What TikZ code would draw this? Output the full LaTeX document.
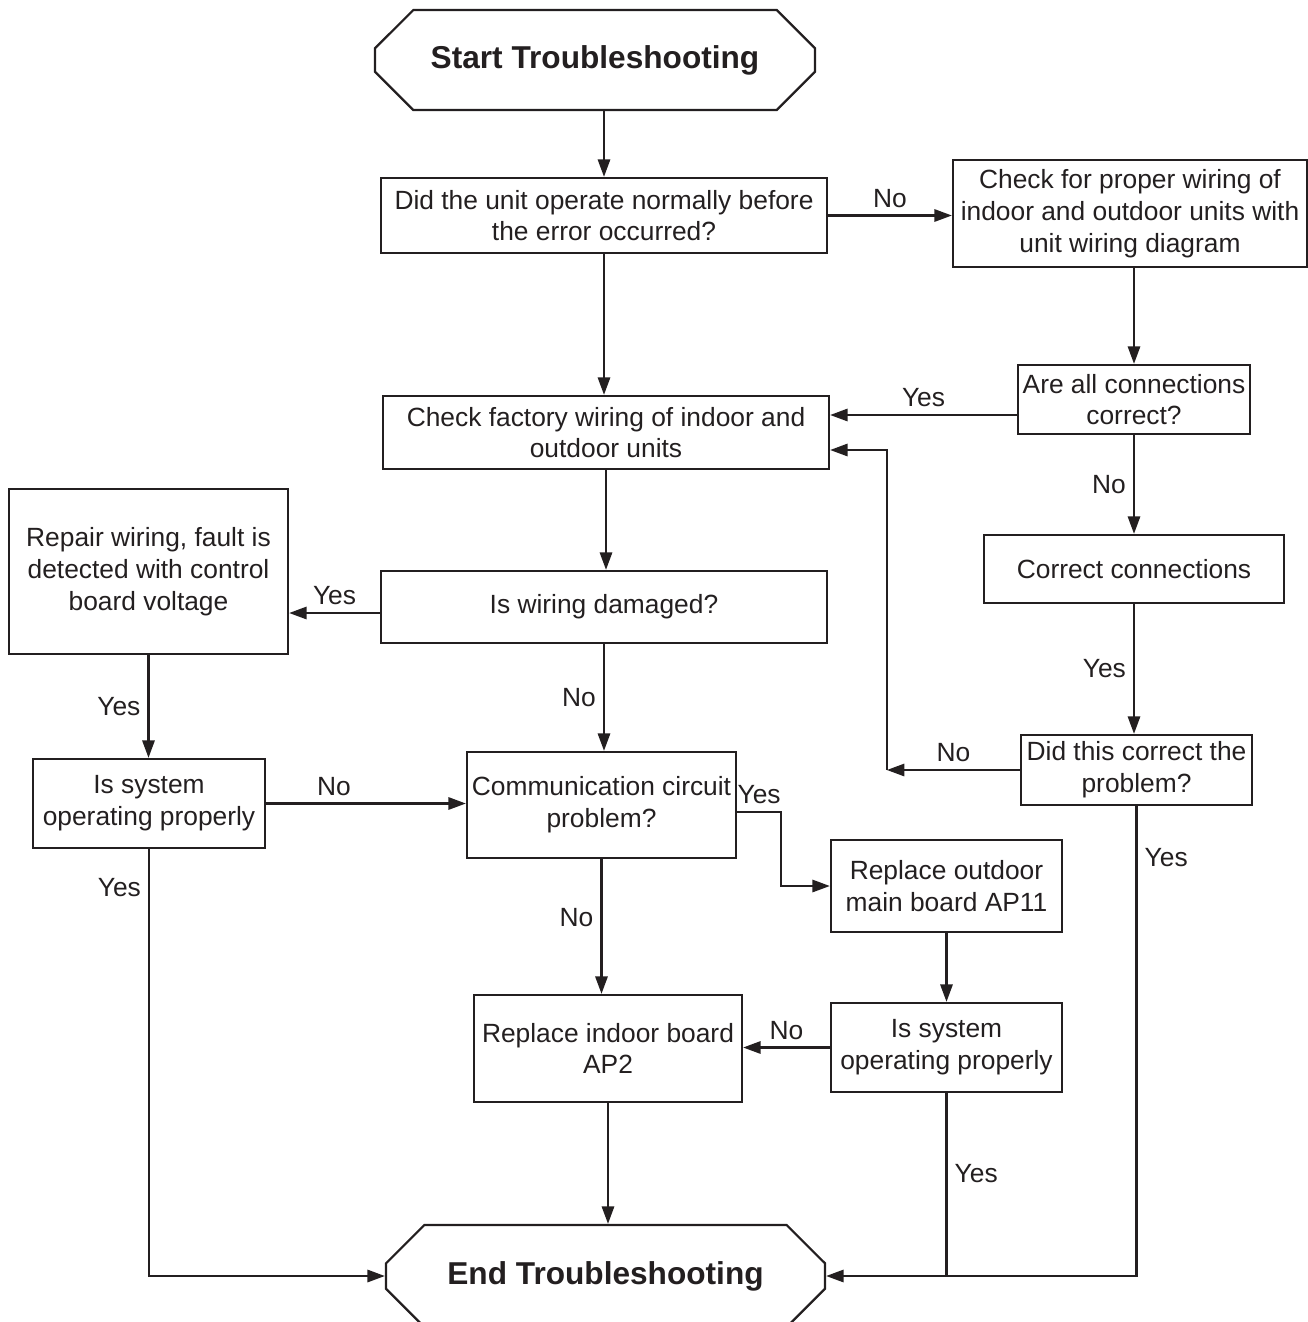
\documentclass[tikz,border=0pt]{standalone}
\usepackage{fontspec}
\setmainfont{Liberation Sans}
\usepackage{xcolor}
\usepackage{tikz}
\usetikzlibrary{shapes.misc, arrows.meta, positioning, calc}
\definecolor{inkblack}{RGB}{35, 31, 32}

\tikzset{
    stepbox/.style={draw=inkblack, line width=1.3pt, align=center, inner sep=0pt,
                    text=inkblack, font=\fontsize{15}{18.1}\selectfont},
    termbox/.style={chamfered rectangle, chamfered rectangle xsep=0.47cm,
                    chamfered rectangle ysep=0.47cm, draw=inkblack, line width=1.3pt,
                    inner sep=0pt, text=inkblack, font=\fontsize{18}{21}\selectfont\bfseries},
    flow/.style={draw=inkblack, line width=1.3pt},
    arr/.style={flow, -{Triangle[length=10pt, width=7pt]}},
    lbl/.style={text=inkblack, font=\fontsize{15}{18}\selectfont, inner sep=4pt},
}

\begin{document}
\begin{tikzpicture}[x=0.02cm, y=-0.02cm]
    \useasboundingbox (0,0) rectangle (1308,1322);

    % start and end
    \node[termbox, minimum width=8.8cm, minimum height=2cm] (start) at (595,60) {Start Troubleshooting};
    \node[termbox, minimum width=8.78cm, minimum height=2.04cm] (finish) at (605.5,1276) {End Troubleshooting};

    % steps
    \node[stepbox, minimum width=8.92cm, minimum height=1.5cm] (normal) at (604,215.5)
        {Did the unit operate normally before\\the error occurred?};
    \node[stepbox, minimum width=7.08cm, minimum height=2.14cm] (propwiring) at (1130,213.5)
        {Check for proper wiring of\\indoor and outdoor units with\\unit wiring diagram};
    \node[stepbox, minimum width=4.64cm, minimum height=1.38cm] (allok) at (1134,399.5)
        {Are all connections\\correct?};
    \node[stepbox, minimum width=8.92cm, minimum height=1.46cm] (factory) at (606,432.5)
        {Check factory wiring of indoor and\\outdoor units};
    \node[stepbox, minimum width=6cm, minimum height=1.36cm] (fixconn) at (1134,569)
        {Correct connections};
    \node[stepbox, minimum width=5.58cm, minimum height=3.3cm] (repair) at (148.5,571.5)
        {Repair wiring, fault is\\detected with control\\board voltage};
    \node[stepbox, minimum width=8.92cm, minimum height=1.44cm] (damaged) at (604,607)
        {Is wiring damaged?};
    \node[stepbox, minimum width=4.62cm, minimum height=1.4cm] (corrected) at (1136.5,770)
        {Did this correct the\\problem?};
    \node[stepbox, minimum width=4.64cm, minimum height=1.78cm] (sysokleft) at (149,803.5)
        {Is system\\operating properly};
    \node[stepbox, minimum width=5.38cm, minimum height=2.12cm] (commprob) at (601.5,805)
        {Communication circuit\\problem?};
    \node[stepbox, minimum width=4.62cm, minimum height=1.84cm] (outdoor) at (946.5,886)
        {Replace outdoor\\main board AP11};
    \node[stepbox, minimum width=5.36cm, minimum height=2.14cm] (indoor) at (608,1048.5)
        {Replace indoor board\\AP2};
    \node[stepbox, minimum width=4.62cm, minimum height=1.78cm] (sysokright) at (946.5,1047.5)
        {Is system\\operating properly};

    % top part
    \draw[arr] (start.south -| normal) -- (normal.north);
    \draw[arr] (normal.east) -- node[lbl, above] (no1) {No} (normal.east -| propwiring.west);
    \draw[arr] (normal.south) -- (normal.south |- factory.north);
    \draw[arr] (propwiring.south -| allok) -- (allok.north);
    \draw[arr] ($(allok.west)+(0,15.5)$) -- node[lbl, above] (yes1) {Yes} ($(allok.west -| factory.east)+(0,15.5)$);
    \draw[arr] (allok.south) -- node[lbl, left] (no2) {No} (allok.south |- fixconn.north);
    \draw[arr] (fixconn.south) -- node[lbl, left] (yes2) {Yes} (fixconn.south |- corrected.north);

    % loop back to factory wiring
    \coordinate (loopbot) at ($(corrected.west)-(133,0)$);
    \draw[arr] (corrected.west) -- node[lbl, above] (no3) {No} (loopbot);
    \draw[arr] (loopbot) -- ($(loopbot |- factory.east)+(0,17.5)$) -- ($(factory.east)+(0,17.5)$);

    % middle part
    \draw[arr] (factory.south) -- (factory.south |- damaged.north);
    \draw[arr] ($(damaged.west)+(0,6)$) -- node[lbl, above] (yes3) {Yes} ($(damaged.west -| repair.east)+(0,6)$);
    \draw[arr] (repair.south) -- node[lbl, left] (yes4) {Yes} (repair.south |- sysokleft.north);
    \draw[arr] (damaged.south) -- node[lbl, left] (no4) {No} (damaged.south |- commprob.north);
    \draw[arr] (sysokleft.east) -- node[lbl, above, pos=0.34] (no5) {No} (sysokleft.east -| commprob.west);
    \draw[arr] ($(commprob.east)+(0,7)$) -- node[lbl, above] (yes5) {Yes} ++(44,0) |- (outdoor.west);
    \draw[arr] (commprob.south) -- node[lbl, left, pos=0.43] (no6) {No} (commprob.south |- indoor.north);
    \draw[arr] (outdoor.south) -- (sysokright.north);
    \draw[arr] (sysokright.west) -- node[lbl, above] (no7) {No} (sysokright.west -| indoor.east);

    % into end
    \draw[arr] (indoor.south) -- (indoor.south |- finish.north);
    \draw[arr] (sysokleft.south) -- node[lbl, left, pos=0.09] (yes6) {Yes} (sysokleft.south |- finish.west) -- (finish.west);
    \draw[flow] (sysokright.south) -- node[lbl, right, pos=0.44] (yes7) {Yes} (sysokright.south |- finish.east);
    \draw[arr] (corrected.south) -- node[lbl, right, pos=0.11] (yes8) {Yes} (corrected.south |- finish.east) -- (finish.east);
\end{tikzpicture}
\end{document}
